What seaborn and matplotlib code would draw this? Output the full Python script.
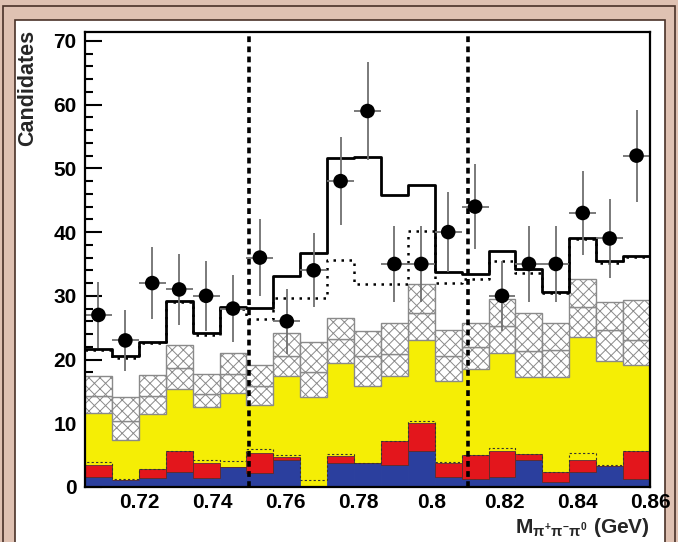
import numpy as np
import pandas as pd
import matplotlib
matplotlib.use('Agg')
import matplotlib.pyplot as plt
import seaborn as sns
from matplotlib.patches import Rectangle
from matplotlib.ticker import MultipleLocator, FuncFormatter

# bins of the mass histogram (GeV)
x_lo, x_hi, n_bins = 0.705, 0.86, 21

# data counts per bin
counts = [27, 23, 32, 31, 30, 28, 36, 26, 34, 48, 59, 35, 35, 40, 44, 30, 35, 35, 43, 39, 52]

# stacked components (cumulative tops)
blue_top = [1.6, 1.1, 1.4, 2.4, 1.4, 3.2, 2.2, 4.3, 0.0, 3.7, 3.7, 3.5, 5.6, 1.6, 1.3, 1.6, 4.3, 0.8, 2.4, 3.3, 1.2]
red_top = [3.5, 1.1, 2.9, 5.7, 3.7, 3.2, 5.4, 4.7, 0.0, 4.8, 3.7, 7.2, 10.1, 3.7, 5.0, 5.6, 5.2, 2.4, 4.2, 3.3, 5.7]
dashed_top = [3.9, 1.2, 2.9, 5.7, 4.2, 4.1, 6.0, 5.1, 1.1, 5.2, 3.7, 7.2, 10.3, 4.0, 5.0, 6.1, 5.2, 2.4, 5.4, 3.4, 5.7]
yellow_top = [11.6, 7.4, 11.4, 15.4, 12.5, 14.7, 12.9, 17.4, 14.2, 19.5, 15.8, 17.4, 23.1, 16.6, 18.5, 21.0, 17.3, 17.3, 23.6, 19.8, 19.2]
hatch_mid = [14.3, 10.4, 14.3, 18.6, 14.6, 17.8, 15.9, 20.5, 18.1, 23.3, 20.5, 20.8, 27.3, 20.5, 22.0, 25.2, 21.4, 21.5, 28.3, 24.7, 23.1]
hatch_top = [17.4, 14.1, 17.5, 22.3, 17.8, 21.0, 19.2, 24.2, 22.7, 26.5, 24.5, 25.8, 31.8, 24.7, 25.8, 29.5, 27.3, 25.7, 32.7, 29.1, 29.3]
dotted_top = [21.5, 20.2, 22.6, 29.0, 23.8, 28.0, 26.3, 29.7, 29.7, 35.6, 31.9, 31.9, 40.1, 32.0, 32.7, 35.4, 33.6, 30.4, 38.9, 35.2, 36.1]
total_top = [21.7, 20.5, 22.8, 29.2, 24.1, 28.3, 28.1, 33.1, 36.7, 51.6, 51.8, 45.9, 47.4, 33.7, 33.5, 37.0, 34.2, 30.6, 39.1, 35.4, 36.3]

# signal window
cut_lines = [0.75, 0.81]

edges = np.linspace(x_lo, x_hi, n_bins + 1)
width = edges[1] - edges[0]
centers = edges[:-1] + width / 2

df = pd.DataFrame({'m': centers, 'dotted': dotted_top, 'total': total_top, 'n': counts})

sns.set_style('white')
plt.rcParams['font.family'] = ['Liberation Sans', 'DejaVu Sans']
plt.rcParams['font.weight'] = 'bold'
plt.rcParams['mathtext.fontset'] = 'custom'
plt.rcParams['mathtext.rm'] = 'Liberation Sans:bold'
plt.rcParams['mathtext.it'] = 'Liberation Sans:bold'
plt.rcParams['mathtext.bf'] = 'Liberation Sans:bold'
plt.rcParams['hatch.linewidth'] = 0.7

fig = plt.figure(figsize=(6.78, 5.42), dpi=100)
fig.patch.set_facecolor('#dfc1b2')
fig.patches.append(Rectangle((3 / 678, -0.05), 672 / 678, 1 - 6 / 542 + 0.05, transform=fig.transFigure,
                             facecolor='none', edgecolor='#4a3229', lw=1.2, zorder=-20))
fig.patches.append(Rectangle((15 / 678, -0.05), 650 / 678, 1 - 20 / 542 + 0.05, transform=fig.transFigure,
                             facecolor='white', edgecolor='#4a3229', lw=1.2, zorder=-10))

ax = fig.add_axes([85 / 678, 1 - 487 / 542, 565 / 678, 455 / 542])
ax.set_facecolor('white')

blue = np.array(blue_top)
red = np.array(red_top)
yel = np.array(yellow_top)
hm = np.array(hatch_mid)
ht = np.array(hatch_top)

ax.bar(edges[:-1], blue, width=width, align='edge', color='#2b3f9e', edgecolor='#2b3f9e', lw=0.6, zorder=2)
ax.bar(edges[:-1], red - blue, bottom=blue, width=width, align='edge', color='#e3161c',
       edgecolor='#5a2a2a', lw=0.6, zorder=2)
ax.bar(edges[:-1], yel - red, bottom=red, width=width, align='edge', color='#f5ee05',
       edgecolor='#f5ee05', lw=0.3, zorder=1)
ax.bar(edges[:-1], hm - yel, bottom=yel, width=width, align='edge', color='white', hatch='xxx',
       edgecolor='#8a8a8a', lw=1.0, zorder=2)
ax.bar(edges[:-1], ht - hm, bottom=hm, width=width, align='edge', color='white', hatch='xxx',
       edgecolor='#8a8a8a', lw=1.0, zorder=2)

# small dashed component above the red one
ax.stairs(dashed_top, edges, color='#333333', lw=0.8, ls=(0, (2, 2)), zorder=3)

# dotted and total lines
sns.histplot(data=df, x='m', weights='dotted', bins=n_bins, binrange=(x_lo, x_hi), element='step',
             fill=False, color='black', lw=1.8, ls=(0, (1, 2.2)), ax=ax, zorder=4)
sns.histplot(data=df, x='m', weights='total', bins=n_bins, binrange=(x_lo, x_hi), element='step',
             fill=False, color='black', lw=2.0, ax=ax, zorder=5)

for xc in cut_lines:
    ax.axvline(xc, color='black', lw=2.6, ls=(0, (1.6, 1.2)), zorder=6)

err = np.sqrt(df['n'])
ax.errorbar(df['m'], df['n'], yerr=err, xerr=width / 2, fmt='none', ecolor='#6f6f6f', elinewidth=1.3,
            capsize=0, zorder=7)
sns.scatterplot(data=df, x='m', y='n', s=110, color='black', edgecolor='none', ax=ax, zorder=8)

ax.set_xlim(x_lo, x_hi)
ax.set_ylim(0, 71.4)

ax.xaxis.set_major_locator(MultipleLocator(0.02))
ax.xaxis.set_minor_locator(MultipleLocator(0.004))
ax.yaxis.set_major_locator(MultipleLocator(10))
ax.yaxis.set_minor_locator(MultipleLocator(2))
ax.xaxis.set_major_formatter(FuncFormatter(lambda v, p: '%g' % round(v, 3)))
ax.tick_params(axis='both', which='both', direction='in', top=False, right=False,
               bottom=True, left=True, width=1.5, colors='black', labelsize=15)
ax.tick_params(axis='both', which='major', length=12)
ax.tick_params(axis='both', which='minor', length=6)
ax.tick_params(axis='x', which='major', pad=4)
ax.tick_params(axis='y', which='major', pad=6)
for lab in ax.get_xticklabels() + ax.get_yticklabels():
    lab.set_fontweight('bold')

for sp in ax.spines.values():
    sp.set_linewidth(1.6)
    sp.set_color('black')
    sp.set_zorder(10)

ax.set_xlabel(r'$\mathrm{M}_{\pi^{+}\pi^{-}\pi^{0}}$ (GeV)', fontsize=15, fontweight='bold', loc='right')
ax.xaxis.set_label_coords(1.0, -0.09)
ax.xaxis.label.set_va('center')
ax.set_ylabel('Candidates', fontsize=15.5, fontweight='bold', loc='top')
ax.yaxis.set_label_coords(-0.083, 1.005)

fig.savefig('out.png', dpi=100, facecolor=fig.get_facecolor())
